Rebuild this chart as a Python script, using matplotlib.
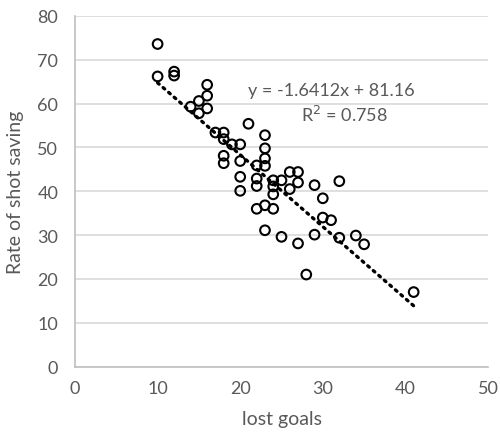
import matplotlib
matplotlib.use("Agg")
import matplotlib.pyplot as plt
import numpy as np

lost_goals = [10, 10, 12, 12, 14, 15, 15, 16, 16, 16, 17, 18, 18, 18, 18, 19, 20, 20, 20, 20,
              21, 22, 22, 22, 22, 23, 23, 23, 23, 23, 23, 24, 24, 24, 24, 25, 25, 26, 26, 27,
              27, 27, 28, 29, 29, 30, 30, 31, 32, 32, 34, 35, 41]
save_rate = [73.6, 66.2, 67.3, 66.4, 59.3, 60.6, 57.8, 64.3, 61.8, 58.9, 53.4, 53.4, 51.9, 48.1,
             46.4, 50.7, 50.7, 46.9, 43.3, 40.1, 55.4, 45.9, 42.9, 41.2, 36.0, 52.8, 49.8, 47.5,
             45.8, 36.8, 31.1, 42.5, 41.1, 39.3, 36.0, 42.5, 29.6, 44.4, 40.5, 44.4, 42.0, 28.1,
             21.0, 41.4, 30.1, 38.4, 34.0, 33.4, 42.3, 29.4, 29.9, 27.9, 17.0]
trend_slope = -1.6412
trend_intercept = 81.16
r_squared = 0.758
x_ticks = [0, 10, 20, 30, 40, 50]
y_ticks = [0, 10, 20, 30, 40, 50, 60, 70, 80]

plt.rcParams['font.family'] = ['Lato', 'DejaVu Sans']
txt = '#595959'

fig = plt.figure(figsize=(5, 4.35), dpi=100)
ax = fig.add_axes([0.15, 0.155, 0.826, 0.806])

ax.scatter(lost_goals, save_rate, s=48, facecolors='none', edgecolors='black',
           linewidths=1.5, zorder=3)

xs = np.array([min(lost_goals), max(lost_goals)])
ax.plot(xs, trend_slope * xs + trend_intercept, color='black', linestyle=(0, (0.6, 1.6)),
        linewidth=2.4, dash_capstyle='round', zorder=2)

ax.set_xlim(0, 50)
ax.set_ylim(0, 80)
ax.set_xticks(x_ticks)
ax.set_yticks(y_ticks)
ax.yaxis.grid(True, color='#d9d9d9', linewidth=1.2)
ax.set_axisbelow(True)
for s in ['top', 'right']:
    ax.spines[s].set_visible(False)
for s in ['left', 'bottom']:
    ax.spines[s].set_color('#bfbfbf')
    ax.spines[s].set_linewidth(1.2)
ax.tick_params(axis='x', length=0, labelsize=13, colors=txt, pad=10)
ax.tick_params(axis='y', length=0, labelsize=13, colors=txt, pad=12)
ax.set_xlabel('lost goals', fontsize=14, color=txt, labelpad=10)
ax.set_ylabel('Rate of shot saving', fontsize=14, color=txt, labelpad=10)

ax.text(31.0, 63.2, 'y = -1.6412x + 81.16', fontsize=13, color=txt, ha='center', va='center')
ax.text(32.6, 57.7, 'R$^2$ = %.3f' % r_squared, fontsize=13, color=txt, ha='center', va='center')

fig.savefig('out.png', dpi=100)
